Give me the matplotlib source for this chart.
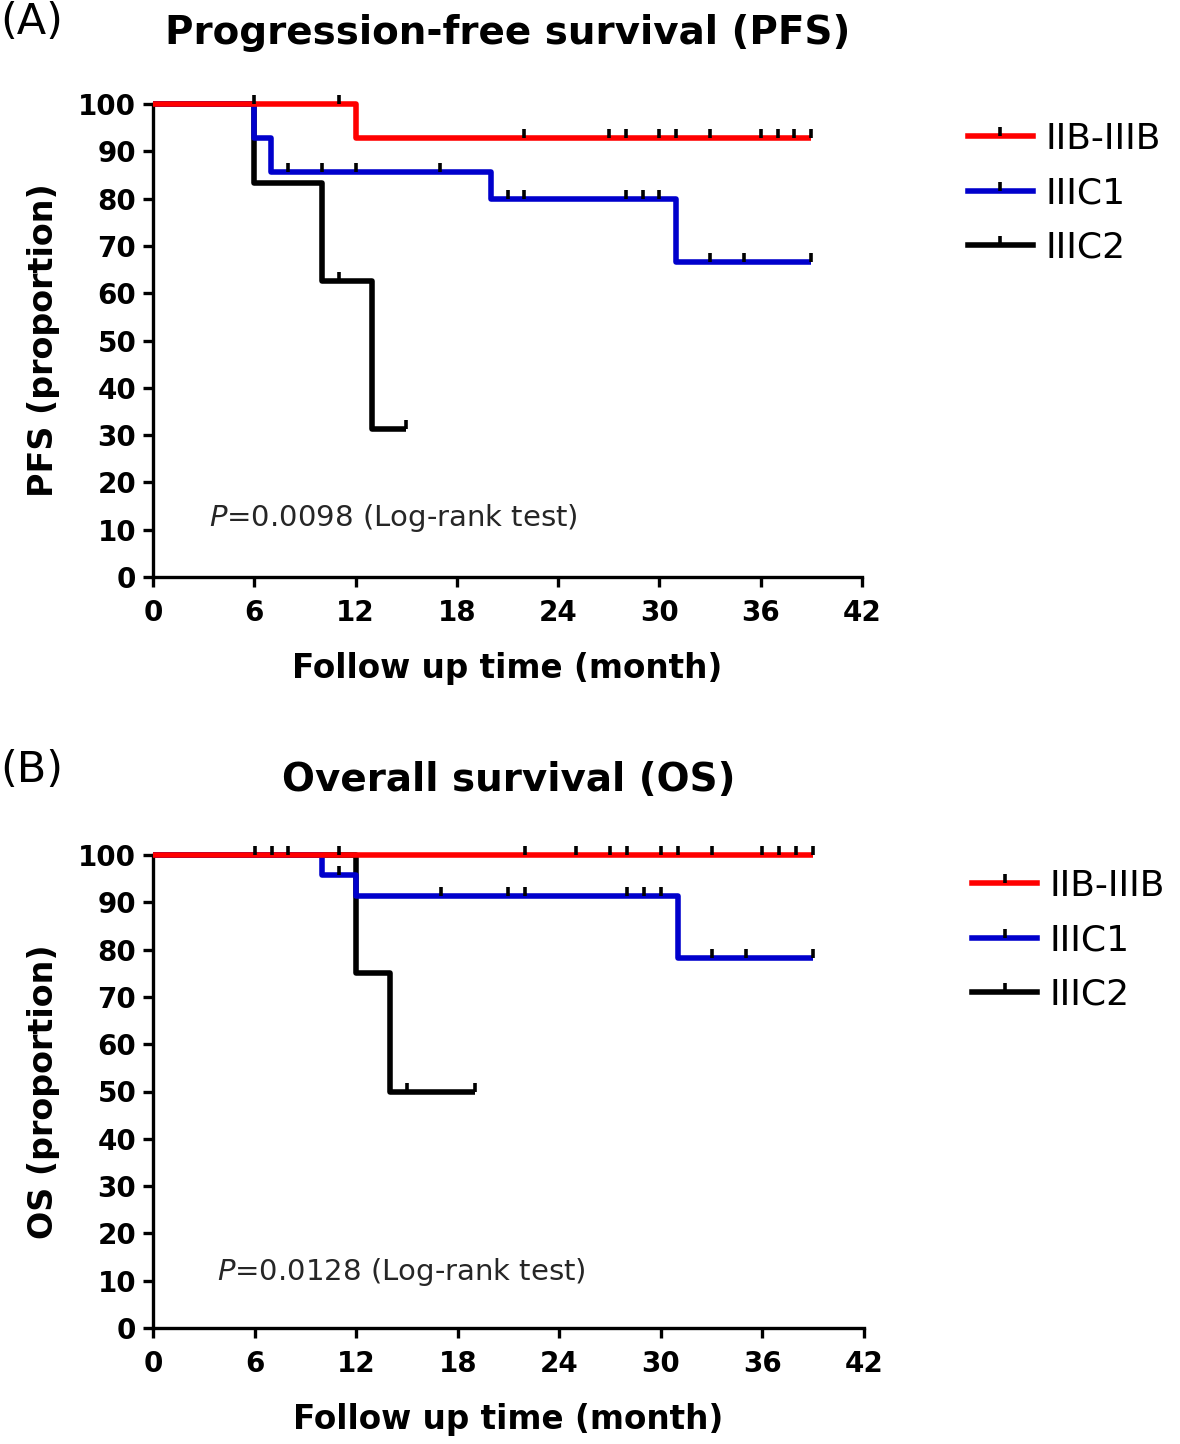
import numpy as np
import matplotlib
matplotlib.use("Agg")
import matplotlib.pyplot as plt
from matplotlib.lines import Line2D

###### DATA
groups = ["IIB-IIIB", "IIIC1", "IIIC2"]
colors = ["#ff0000", "#0000cc", "#000000"]

# PFS step curves (month, percent)
pfs_red_t = [0, 12, 39]
pfs_red_s = [100, 92.9, 92.9]
pfs_red_c = [6, 11, 22, 27, 28, 30, 31, 33, 36, 37, 38, 39]

pfs_blue_t = [0, 6, 7, 20, 31, 39]
pfs_blue_s = [100, 92.9, 85.7, 80.0, 66.7, 66.7]
pfs_blue_c = [8, 10, 12, 17, 21, 22, 28, 29, 30, 33, 35, 39]

pfs_black_t = [0, 6, 10, 13, 15]
pfs_black_s = [100, 83.3, 62.5, 31.25, 31.25]
pfs_black_c = [11, 15]

# OS step curves
os_red_t = [0, 39]
os_red_s = [100, 100]
os_red_c = [6, 7, 8, 11, 22, 25, 27, 28, 30, 31, 33, 36, 37, 38, 39]

os_blue_t = [0, 10, 12, 31, 39]
os_blue_s = [100, 95.7, 91.3, 78.3, 78.3]
os_blue_c = [11, 17, 21, 22, 28, 29, 30, 33, 35, 39]

os_black_t = [0, 12, 14, 19]
os_black_s = [100, 75, 50, 50]
os_black_c = [15, 19]

x_ticks = [0, 6, 12, 18, 24, 30, 36, 42]
y_ticks = [0, 10, 20, 30, 40, 50, 60, 70, 80, 90, 100]

pfs_p = "0.0098"
os_p = "0.0128"
###### END DATA

W, H = 1180, 1444
fig = plt.figure(figsize=(W / 100, H / 100), dpi=100)

# censor tick: short line pointing up from the curve
censor_marker = [(0, 0), (0, 1)]


def surv_at(t, s, c):
    idx = np.searchsorted(t, c, side="right") - 1
    return np.array(s)[idx]


def draw_panel(ax, curves, ylabel, p_txt, p_pos):
    z = [3, 2, 1]
    for (t, s, c), col, zz in zip(curves, colors, z):
        ax.plot(t, s, drawstyle="steps-post", color=col, lw=4.0,
                clip_on=False, zorder=zz, solid_capstyle="butt")
        ax.plot(c, surv_at(t, s, c), ls="none", marker=censor_marker,
                ms=13, mew=2.6, color="black", clip_on=False, zorder=5)

    ax.set_xlim(0, 42)
    ax.set_ylim(0, 100)
    ax.set_xticks(x_ticks)
    ax.set_yticks(y_ticks)
    for sp in ["top", "right"]:
        ax.spines[sp].set_visible(False)
    for sp in ["left", "bottom"]:
        ax.spines[sp].set_linewidth(2.4)
    ax.tick_params(direction="out", length=7, width=2.4, labelsize=20)
    ax.tick_params(axis="x", pad=9)
    ax.tick_params(axis="y", pad=5)
    for lab in ax.get_xticklabels() + ax.get_yticklabels():
        lab.set_fontweight("bold")
    ax.set_xlabel("Follow up time (month)", fontsize=23.5, fontweight="bold", labelpad=18)
    ax.set_ylabel(ylabel, fontsize=24, fontweight="bold", labelpad=13)
    ax.text(p_pos[0], p_pos[1], r"$\it{P}$=" + p_txt + " (Log-rank test)",
            fontsize=21, color="#262626", ha="left", va="center")


ax1 = fig.add_axes([153 / W, 1 - 577 / H, (862 - 153) / W, (577 - 104) / H])
draw_panel(ax1,
           [(pfs_red_t, pfs_red_s, pfs_red_c),
            (pfs_blue_t, pfs_blue_s, pfs_blue_c),
            (pfs_black_t, pfs_black_s, pfs_black_c)],
           "PFS (proportion)", pfs_p, (3.3, 12.5))

ax2 = fig.add_axes([153 / W, 1 - 1328 / H, (864 - 153) / W, (1328 - 855) / H])
draw_panel(ax2,
           [(os_red_t, os_red_s, os_red_c),
            (os_blue_t, os_blue_s, os_blue_c),
            (os_black_t, os_black_s, os_black_c)],
           "OS (proportion)", os_p, (3.8, 11.8))

# titles and panel letters
fig.text(508 / W, 1 - 33 / H, "Progression-free survival (PFS)", fontsize=28,
         fontweight="bold", ha="center", va="center")
fig.text(509 / W, 1 - 780 / H, "Overall survival (OS)", fontsize=28,
         fontweight="bold", ha="center", va="center")
fig.text(0, 1 - 22 / H, "(A)", fontsize=31, ha="left", va="center")
fig.text(0, 1 - 770 / H, "(B)", fontsize=31, ha="left", va="center")

# legends
handles = [Line2D([0], [0], color=col, lw=4.0, marker=censor_marker, ms=13,
                  mew=2.6, mec="black") for col in colors]
for ax, (lx, ly) in [(ax1, (968, 122)), (ax2, (972, 869))]:
    ax.legend(handles, groups, loc="upper left",
              bbox_to_anchor=(lx / W, 1 - ly / H), bbox_transform=fig.transFigure,
              frameon=False, fontsize=26, numpoints=1, handlelength=1.8,
              handletextpad=0.35, labelspacing=0.56, borderpad=0, borderaxespad=0)

fig.savefig("out.png", dpi=100)
